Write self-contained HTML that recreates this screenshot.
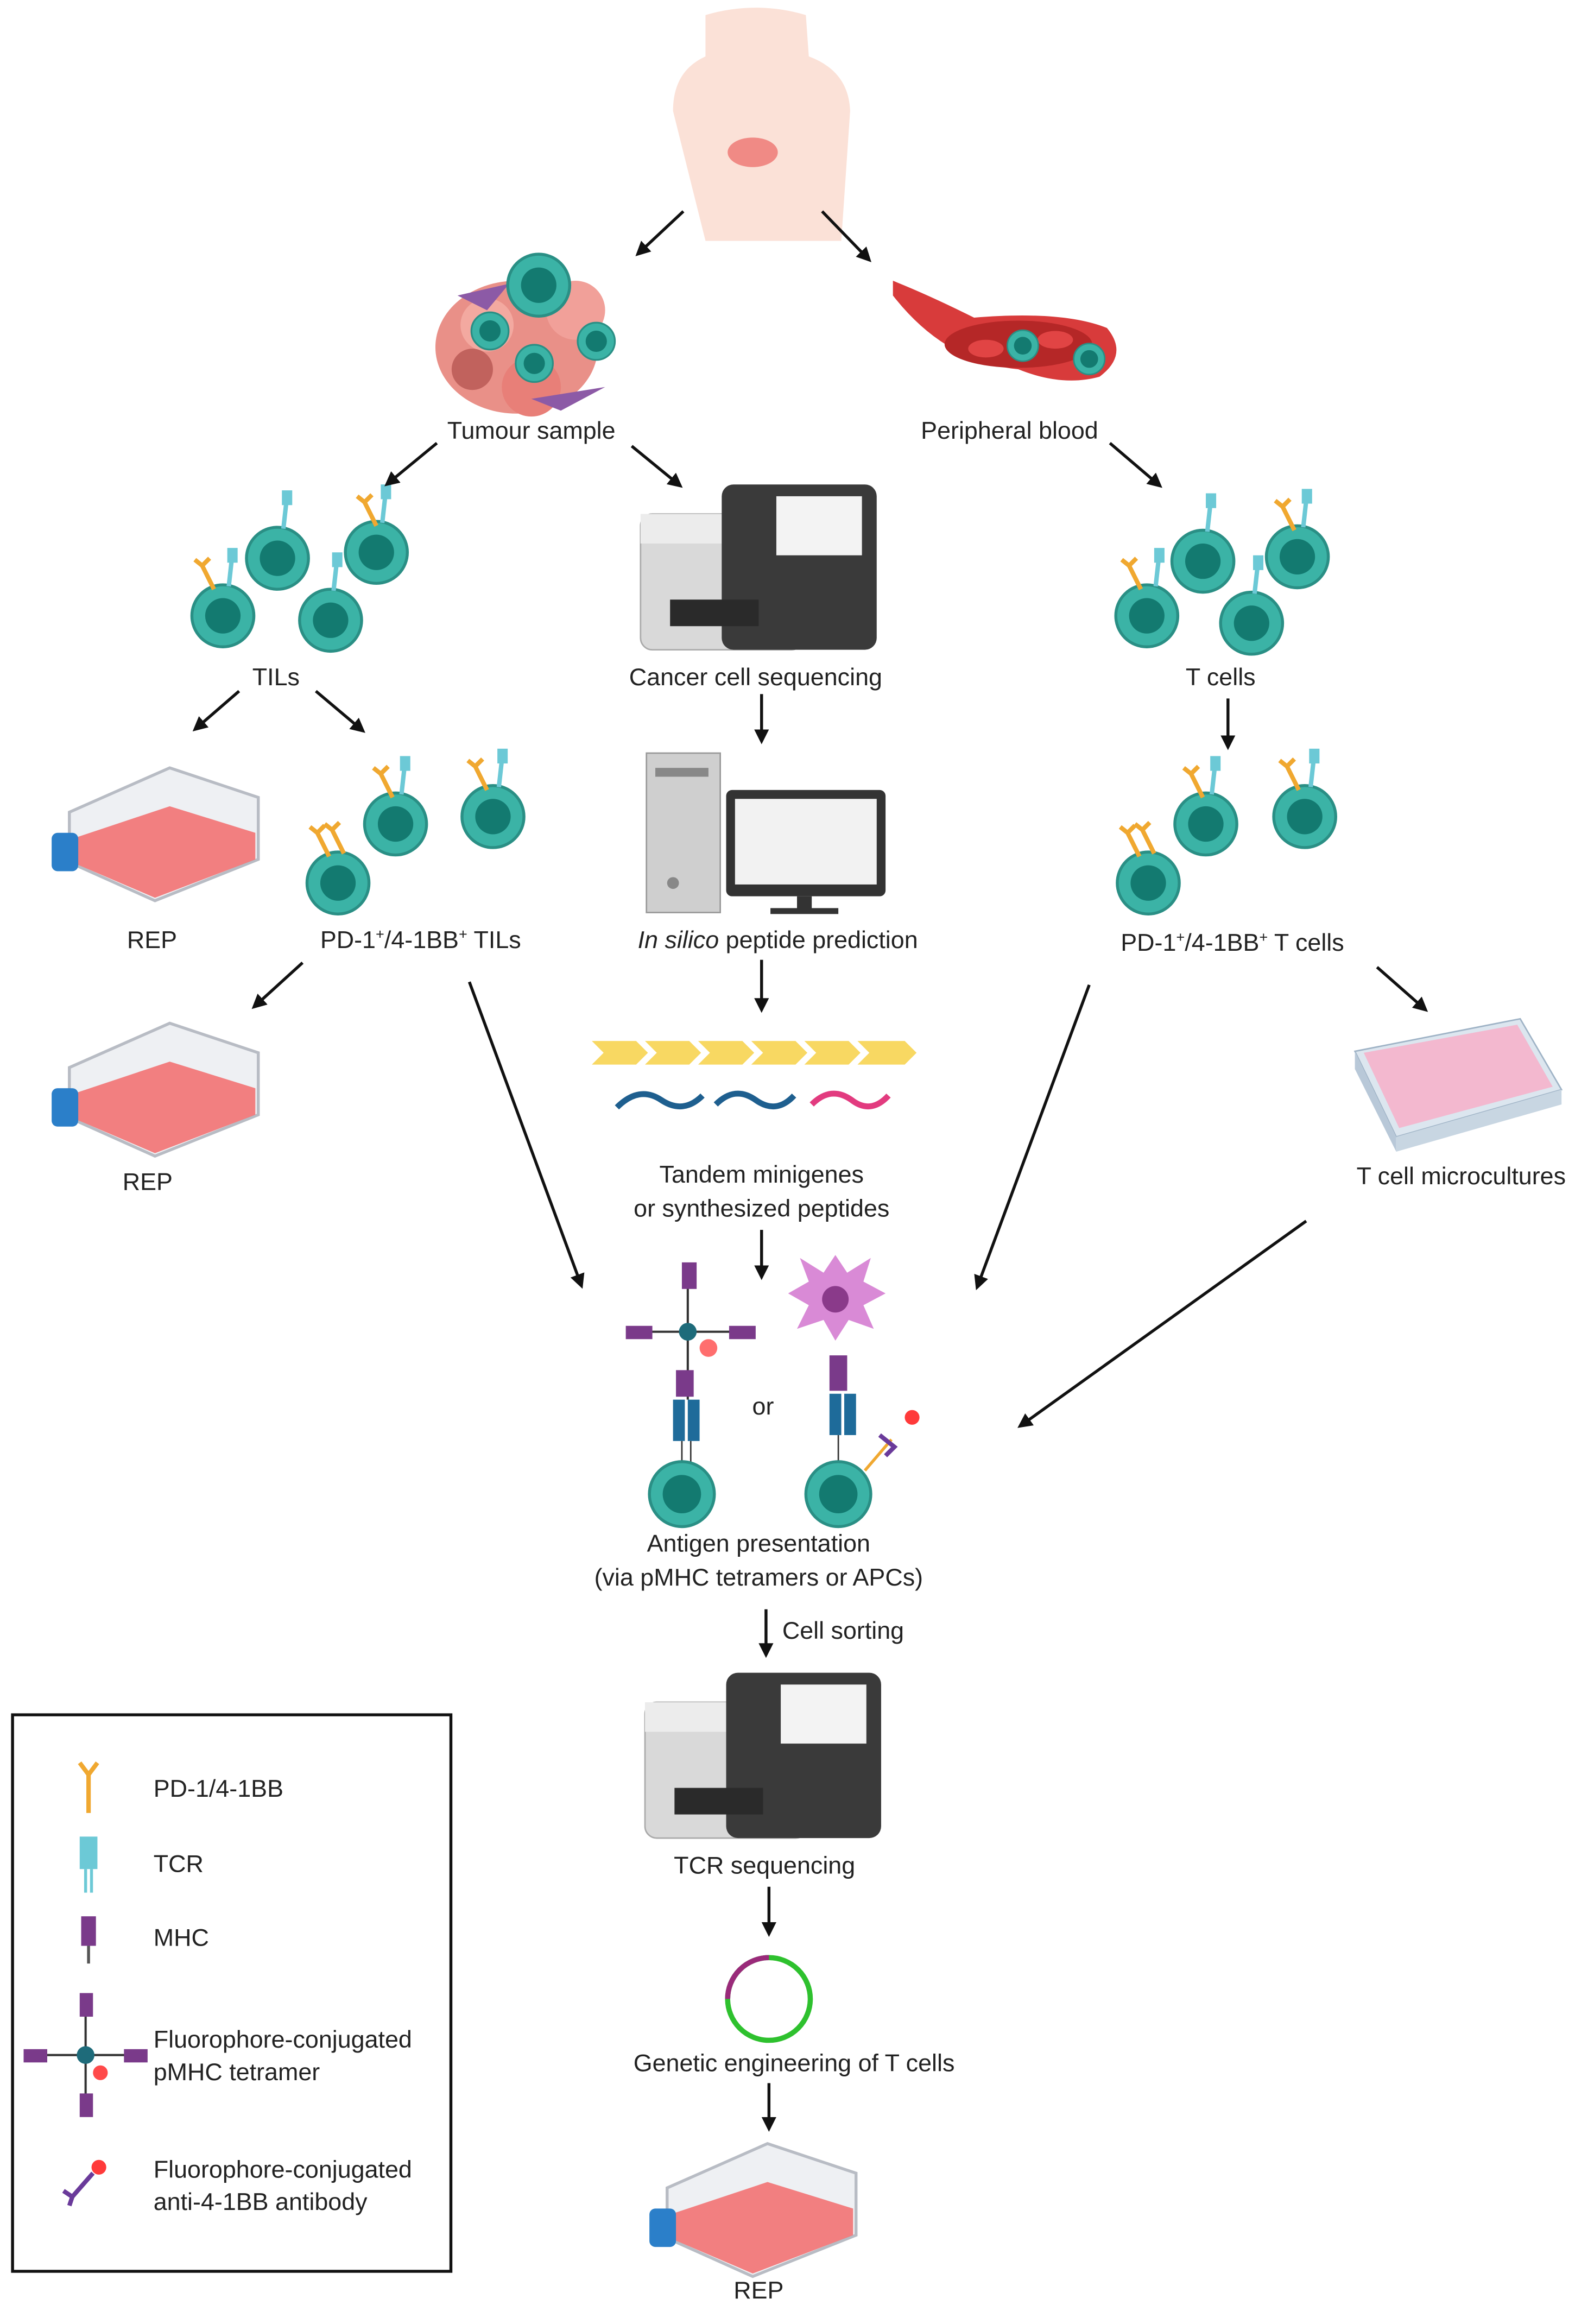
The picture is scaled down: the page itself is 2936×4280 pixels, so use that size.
<!DOCTYPE html>
<html><head><meta charset="utf-8"><style>
html,body{margin:0;padding:0;background:#fff}
svg{display:block}
text{font-family:"Liberation Sans",sans-serif;font-size:16.5px;fill:#222}
</style></head><body>
<svg width="2936" height="4280" viewBox="0 0 1080 1574" xmlns="http://www.w3.org/2000/svg">
<defs>
<marker id="ah" markerWidth="10" markerHeight="10" refX="8" refY="5" orient="auto" markerUnits="userSpaceOnUse"><path d="M0,0 L10,5 L0,10 Z" fill="#111"/></marker>
<g id="tc"><circle r="21" fill="#3bb3a6" stroke="#2a8f85" stroke-width="2"/><circle r="12" fill="#137a70"/></g>
<g id="pd"><line x1="0" y1="0" x2="-8" y2="-16" stroke="#f0a830" stroke-width="3"/><path d="M-13,-20 L-8,-16 L-3,-21" stroke="#f0a830" stroke-width="3" fill="none"/></g>
<g id="tcr"><line x1="0" y1="0" x2="2" y2="-18" stroke="#6cc9d6" stroke-width="3"/><rect x="-1" y="-26" width="7" height="10" fill="#6cc9d6"/></g>
<g id="seq"><rect x="0" y="20" width="110" height="92" rx="8" fill="#d9d9d9" stroke="#aaa"/><rect x="0" y="20" width="110" height="20" fill="#ececec"/><rect x="55" y="0" width="105" height="112" rx="8" fill="#3a3a3a"/><rect x="92" y="8" width="58" height="40" fill="#f3f3f3"/><rect x="20" y="78" width="60" height="18" fill="#2a2a2a"/></g>
<g id="flask"><path d="M12,30 L80,0 L140,20 L140,62 L70,90 L12,64 Z" fill="#eef0f3" stroke="#b8bcc4" stroke-width="2"/><path d="M14,48 L80,26 L138,44 L138,62 L70,88 L14,64 Z" fill="#f26b6b" opacity=".85"/><rect x="0" y="44" width="18" height="26" rx="4" fill="#2b7fc9"/></g>
</defs>

<!-- torso -->
<path d="M478,10 Q512,0 546,10 L548,38 Q575,48 576,75 L570,163 L478,163 L456,75 Q456,48 478,38 Z" fill="#fbe1d7"/>
<ellipse cx="510" cy="103" rx="17" ry="10" fill="#f08a85"/>

<!-- tumour -->
<g>
<ellipse cx="350" cy="235" rx="55" ry="45" fill="#e99088"/>
<circle cx="330" cy="220" r="18" fill="#f3a9a0"/><circle cx="390" cy="210" r="20" fill="#f1a099"/><circle cx="360" cy="262" r="20" fill="#e87f78"/><circle cx="320" cy="250" r="14" fill="#c1625d"/>
<path d="M310,200 L345,192 L330,210 Z" fill="#8c5aa6"/><path d="M360,270 L410,262 L380,278 Z" fill="#8c5aa6"/>
<use href="#tc" x="365" y="193" transform="scale(1)"/>
<g transform="translate(332,224) scale(.6)"><use href="#tc"/></g>
<g transform="translate(362,246) scale(.6)"><use href="#tc"/></g>
<g transform="translate(404,231) scale(.6)"><use href="#tc"/></g>
</g>

<!-- blood vessel -->
<path d="M605,190 Q630,200 660,215 Q720,210 750,222 Q765,240 745,255 Q720,262 690,250 Q640,245 605,200 Z" fill="#d83b3b"/>
<ellipse cx="690" cy="233" rx="50" ry="16" fill="#b52727"/>
<ellipse cx="668" cy="236" rx="12" ry="6" fill="#e14444"/><ellipse cx="715" cy="230" rx="12" ry="6" fill="#e14444"/>
<g transform="translate(693,234) scale(.5)"><use href="#tc"/></g>
<g transform="translate(738,243) scale(.5)"><use href="#tc"/></g>

<!-- TILs cluster -->
<g transform="translate(188,378)"><use href="#tc"/><g transform="translate(4,-20)"><use href="#tcr"/></g></g>
<g transform="translate(255,374)"><use href="#tc"/><g transform="translate(0,-18)"><use href="#pd"/></g><g transform="translate(4,-20)"><use href="#tcr"/></g></g>
<g transform="translate(151,417)"><use href="#tc"/><g transform="translate(-6,-18)"><use href="#pd"/></g><g transform="translate(4,-20)"><use href="#tcr"/></g></g>
<g transform="translate(224,420)"><use href="#tc"/><g transform="translate(2,-20)"><use href="#tcr"/></g></g>

<!-- T cells right -->
<g transform="translate(815,380)"><use href="#tc"/><g transform="translate(3,-20)"><use href="#tcr"/></g></g>
<g transform="translate(879,377)"><use href="#tc"/><g transform="translate(-2,-18)"><use href="#pd"/></g><g transform="translate(4,-20)"><use href="#tcr"/></g></g>
<g transform="translate(777,417)"><use href="#tc"/><g transform="translate(-4,-18)"><use href="#pd"/></g><g transform="translate(6,-20)"><use href="#tcr"/></g></g>
<g transform="translate(848,422)"><use href="#tc"/><g transform="translate(2,-20)"><use href="#tcr"/></g></g>

<!-- sequencer -->
<g transform="translate(434,328)"><use href="#seq"/></g>
<!-- computer -->
<rect x="438" y="510" width="50" height="108" fill="#cfcfcf" stroke="#999"/><rect x="444" y="520" width="36" height="6" fill="#888"/><circle cx="456" cy="598" r="4" fill="#888"/>
<rect x="492" y="535" width="108" height="72" rx="4" fill="#333"/><rect x="498" y="541" width="96" height="58" fill="#f2f2f2"/><rect x="540" y="607" width="10" height="10" fill="#333"/><rect x="522" y="615" width="46" height="4" fill="#333"/>

<!-- flasks -->
<g transform="translate(35,520)"><use href="#flask"/></g>
<g transform="translate(35,693)"><use href="#flask"/></g>
<g transform="translate(440,1452)"><use href="#flask"/></g>

<!-- PD1 TILs -->
<g transform="translate(268,558)"><use href="#tc"/><g transform="translate(-2,-18)"><use href="#pd"/></g><g transform="translate(4,-20)"><use href="#tcr"/></g></g>
<g transform="translate(334,553)"><use href="#tc"/><g transform="translate(-4,-18)"><use href="#pd"/></g><g transform="translate(4,-20)"><use href="#tcr"/></g></g>
<g transform="translate(229,598)"><use href="#tc"/><g transform="translate(-6,-18)"><use href="#pd"/></g><g transform="translate(4,-20)"><use href="#pd"/></g></g>
<!-- PD1 T cells -->
<g transform="translate(817,558)"><use href="#tc"/><g transform="translate(-2,-18)"><use href="#pd"/></g><g transform="translate(4,-20)"><use href="#tcr"/></g></g>
<g transform="translate(884,553)"><use href="#tc"/><g transform="translate(-4,-18)"><use href="#pd"/></g><g transform="translate(4,-20)"><use href="#tcr"/></g></g>
<g transform="translate(778,598)"><use href="#tc"/><g transform="translate(-6,-18)"><use href="#pd"/></g><g transform="translate(4,-20)"><use href="#pd"/></g></g>

<!-- peptides -->
<g fill="#f8d862">
<path d="M401,705 L431,705 L439,713 L431,721 L401,721 L409,713 Z"/>
<path d="M437,705 L467,705 L475,713 L467,721 L437,721 L445,713 Z"/>
<path d="M473,705 L503,705 L511,713 L503,721 L473,721 L481,713 Z"/>
<path d="M509,705 L539,705 L547,713 L539,721 L509,721 L517,713 Z"/>
<path d="M545,705 L575,705 L583,713 L575,721 L545,721 L553,713 Z"/>
<path d="M581,705 L613,705 L621,713 L613,721 L581,721 L589,713 Z"/>
</g>
<path d="M418,750 Q433,735 448,745 Q463,755 476,742" stroke="#1e5f8f" stroke-width="4" fill="none"/>
<path d="M485,748 Q498,735 512,745 Q526,755 538,742" stroke="#1e5f8f" stroke-width="4" fill="none"/>
<path d="M550,748 Q563,735 577,745 Q590,755 602,742" stroke="#e23b7f" stroke-width="4" fill="none"/>

<!-- well plate -->
<path d="M918,712 L1030,690 L1058,738 L946,770 Z" fill="#dce6ef" stroke="#9fb3c6"/>
<path d="M924,713 L1028,694 L1052,736 L948,764 Z" fill="#f3b8cf"/>
<path d="M918,712 L946,770 L946,780 L918,724 Z" fill="#b8c8d8"/><path d="M946,770 L1058,738 L1058,748 L946,780 Z" fill="#c8d6e2"/>

<!-- tetramer -->
<g stroke="#333" stroke-width="1.5"><line x1="466" y1="862" x2="466" y2="948"/><line x1="425" y1="902" x2="510" y2="902"/></g>
<circle cx="466" cy="902" r="6" fill="#1e6b7a"/>
<rect x="462" y="855" width="10" height="18" fill="#7a3a8a"/><rect x="424" y="898" width="18" height="9" fill="#7a3a8a"/><rect x="494" y="898" width="18" height="9" fill="#7a3a8a"/><rect x="458" y="928" width="12" height="18" fill="#7a3a8a"/>
<circle cx="480" cy="913" r="6" fill="#ff4a4a" opacity=".8"/>
<rect x="456" y="948" width="8" height="28" fill="#1e6b9a"/><rect x="466" y="948" width="8" height="28" fill="#1e6b9a"/>
<line x1="462" y1="976" x2="462" y2="992" stroke="#333"/><line x1="468" y1="976" x2="468" y2="992" stroke="#333"/>
<g transform="translate(462,1012)"><circle r="22" fill="#3bb3a6" stroke="#2a8f85" stroke-width="2"/><circle r="13" fill="#137a70"/></g>
<!-- APC -->
<path d="M566,850 L574,862 L590,852 L585,868 L600,876 L585,884 L592,900 L575,894 L566,908 L558,894 L540,900 L548,884 L534,876 L548,868 L542,852 L558,862 Z" fill="#d98ad6"/>
<circle cx="566" cy="880" r="9" fill="#8a3a8a"/>
<rect x="562" y="918" width="12" height="24" fill="#7a3a8a"/>
<rect x="562" y="944" width="8" height="28" fill="#1e6b9a"/><rect x="572" y="944" width="8" height="28" fill="#1e6b9a"/>
<line x1="568" y1="972" x2="568" y2="992" stroke="#333"/>
<g transform="translate(568,1012)"><circle r="22" fill="#3bb3a6" stroke="#2a8f85" stroke-width="2"/><circle r="13" fill="#137a70"/></g>
<line x1="586" y1="996" x2="604" y2="975" stroke="#f0a830" stroke-width="2"/>
<path d="M596,972 L606,980 L600,986" stroke="#6a3a9a" stroke-width="3" fill="none"/>
<circle cx="618" cy="960" r="5" fill="#ff3a3a"/>

<!-- sequencer 2 -->
<g transform="translate(437,1133)"><use href="#seq"/></g>
<!-- plasmid -->
<circle cx="521" cy="1354" r="28" fill="none" stroke="#2ec12e" stroke-width="3.5"/>
<path d="M493,1354 A28,28 0 0 1 521,1326" fill="none" stroke="#9a2a7a" stroke-width="3.5"/>

<!-- arrows -->
<g stroke="#111" stroke-width="2" marker-end="url(#ah)">
<line x1="463" y1="143" x2="432" y2="172"/>
<line x1="557" y1="143" x2="589" y2="176"/>
<line x1="296" y1="300" x2="262" y2="328"/>
<line x1="428" y1="302" x2="461" y2="329"/>
<line x1="752" y1="300" x2="786" y2="329"/>
<line x1="162" y1="468" x2="132" y2="494"/>
<line x1="214" y1="468" x2="246" y2="495"/>
<line x1="516" y1="470" x2="516" y2="502"/>
<line x1="832" y1="473" x2="832" y2="506"/>
<line x1="205" y1="652" x2="172" y2="682"/>
<line x1="516" y1="650" x2="516" y2="684"/>
<line x1="933" y1="655" x2="966" y2="684"/>
<line x1="318" y1="665" x2="394" y2="871"/>
<line x1="738" y1="667" x2="662" y2="872"/>
<line x1="516" y1="833" x2="516" y2="865"/>
<line x1="885" y1="827" x2="691" y2="966"/>
<line x1="519" y1="1090" x2="519" y2="1121"/>
<line x1="521" y1="1278" x2="521" y2="1310"/>
<line x1="521" y1="1411" x2="521" y2="1442"/>
</g>

<!-- labels -->
<g text-anchor="middle">
<text x="360" y="297">Tumour sample</text>
<text x="684" y="297">Peripheral blood</text>
<text x="187" y="464">TILs</text>
<text x="512" y="464">Cancer cell sequencing</text>
<text x="827" y="464">T cells</text>
<text x="103" y="642">REP</text>
<text x="285" y="642">PD-1<tspan font-size="10" dy="-6">+</tspan><tspan dy="6">/4-1BB</tspan><tspan font-size="10" dy="-6">+</tspan><tspan dy="6"> TILs</tspan></text>
<text x="527" y="642"><tspan font-style="italic">In silico</tspan> peptide prediction</text>
<text x="835" y="644">PD-1<tspan font-size="10" dy="-6">+</tspan><tspan dy="6">/4-1BB</tspan><tspan font-size="10" dy="-6">+</tspan><tspan dy="6"> T cells</tspan></text>
<text x="100" y="806">REP</text>
<text x="516" y="801">Tandem minigenes</text>
<text x="516" y="824">or synthesized peptides</text>
<text x="990" y="802">T cell microcultures</text>
<text x="517" y="958">or</text>
<text x="514" y="1051">Antigen presentation</text>
<text x="514" y="1074">(via pMHC tetramers or APCs)</text>
<text x="518" y="1269">TCR sequencing</text>
<text x="538" y="1403">Genetic engineering of T cells</text>
<text x="514" y="1557">REP</text>
</g>
<text x="530" y="1110">Cell sorting</text>

<!-- legend -->
<rect x="8.5" y="1161.5" width="297" height="377" fill="none" stroke="#111" stroke-width="2"/>
<g transform="translate(60,1228)"><line x1="0" y1="0" x2="0" y2="-26" stroke="#f0a830" stroke-width="3"/><path d="M-6,-34 L0,-26 L6,-34" stroke="#f0a830" stroke-width="3" fill="none"/></g>
<g transform="translate(60,1282)"><line x1="-2" y1="0" x2="-2" y2="-16" stroke="#6cc9d6" stroke-width="2"/><line x1="2" y1="0" x2="2" y2="-16" stroke="#6cc9d6" stroke-width="2"/><rect x="-6" y="-38" width="12" height="22" fill="#6cc9d6"/></g>
<g transform="translate(60,1330)"><line x1="0" y1="0" x2="0" y2="-12" stroke="#555" stroke-width="2"/><rect x="-5" y="-32" width="10" height="20" fill="#7a3a8a"/></g>
<g transform="translate(58,1392)"><line x1="0" y1="-40" x2="0" y2="40" stroke="#333" stroke-width="1.5"/><line x1="-40" y1="0" x2="40" y2="0" stroke="#333" stroke-width="1.5"/><circle r="6" fill="#1e6b7a"/><rect x="-4" y="-42" width="9" height="16" fill="#7a3a8a"/><rect x="-42" y="-4" width="16" height="9" fill="#7a3a8a"/><rect x="26" y="-4" width="16" height="9" fill="#7a3a8a"/><rect x="-4" y="26" width="9" height="16" fill="#7a3a8a"/><circle cx="10" cy="12" r="5" fill="#ff4a4a"/></g>
<g transform="translate(55,1480)"><line x1="-6" y1="8" x2="8" y2="-8" stroke="#6a3a9a" stroke-width="3"/><path d="M-12,4 L-6,8 L-8,14" stroke="#6a3a9a" stroke-width="3" fill="none"/><circle cx="12" cy="-12" r="5" fill="#ff3a3a"/></g>
<text x="104" y="1217">PD-1/4-1BB</text>
<text x="104" y="1268">TCR</text>
<text x="104" y="1318">MHC</text>
<text x="104" y="1387">Fluorophore-conjugated</text>
<text x="104" y="1409">pMHC tetramer</text>
<text x="104" y="1475">Fluorophore-conjugated</text>
<text x="104" y="1497">anti-4-1BB antibody</text>
</svg>
</body></html>
